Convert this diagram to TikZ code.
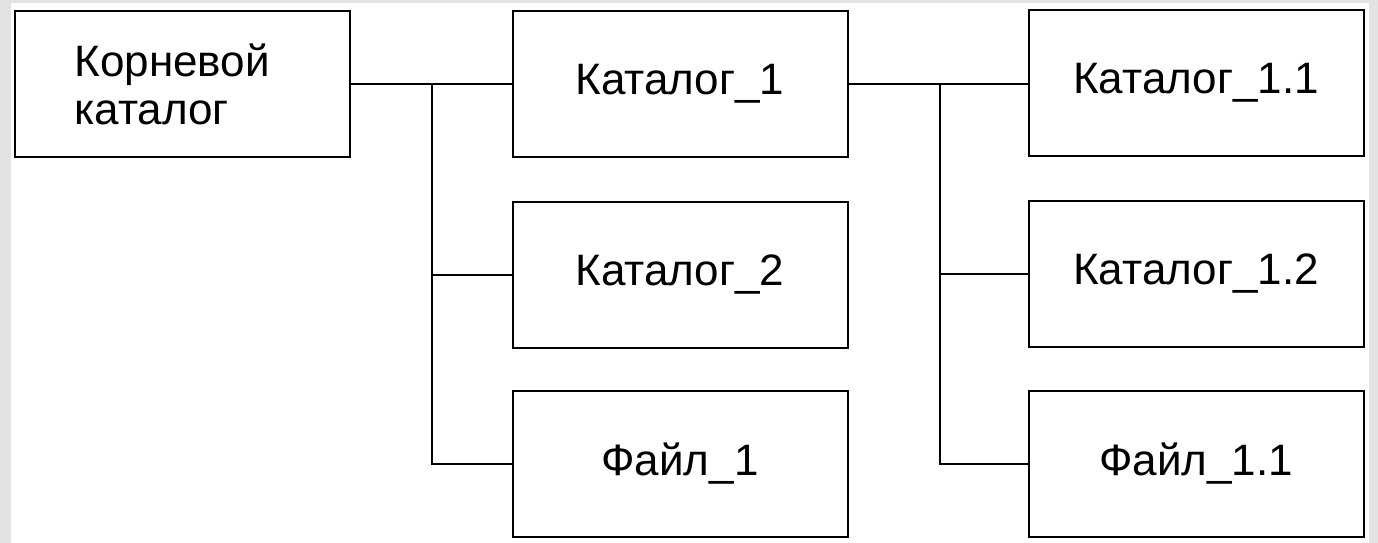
\documentclass[tikz,border=0pt]{standalone}
\usepackage{fontspec}
\setmainfont{Liberation Sans}
\begin{document}
\begin{tikzpicture}[x=1pt,y=-1pt,
        box/.style={draw,line width=2pt,minimum width=335pt,minimum height=146pt,inner sep=0pt,font=\fontsize{44}{48}\selectfont},
        link/.style={line width=1.8pt}]
        \fill[gray!22] (0,0) rectangle (1378,543);
        \fill[white] (11,3) rectangle (1369,543);
        \node[box,text width=215pt,align=left] (root) at (182,84) {Корневой\\каталог};
        \node[box] (k1) at (680,84) {Каталог\_1};
        \node[box] (k2) at (680,275) {Каталог\_2};
        \node[box] (f1) at (680,464) {Файл\_1};
        \node[box] (k11) at (1196,83) {Каталог\_1.1};
        \node[box] (k12) at (1196,274) {Каталог\_1.2};
        \node[box] (f11) at (1196,464) {Файл\_1.1};
        \coordinate (t1) at (432,84);
        \coordinate (t2) at (940,84);
        \draw[link] (root) -- (k1);
        \draw[link] (t1) |- (k2.west);
        \draw[link] (t1) |- (f1.west);
        \draw[link] (k1.east) -- (k11.west |- k1.east);
        \draw[link] (t2) |- (k12.west);
        \draw[link] (t2) |- (f11.west);
    \end{tikzpicture}
\end{document}
